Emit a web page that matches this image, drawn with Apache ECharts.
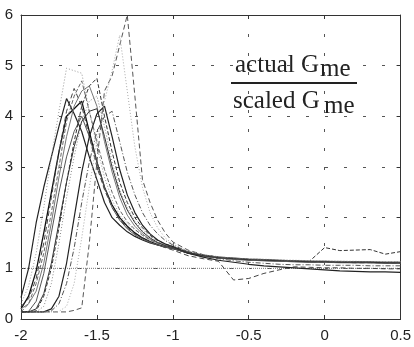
<!DOCTYPE html>
<html>
<head>
<meta charset="utf-8">
<script src="https://cdn.jsdelivr.net/npm/echarts@6/dist/echarts.min.js"></script>
<style>html,body{margin:0;padding:0;background:#fff}#c{width:414px;height:347px}</style>
</head>
<body>
<div id="c"></div>
<script>
// shared x positions (log-scale abscissa as in the reference)
var xs = [-2,-1.95,-1.9,-1.85,-1.8,-1.75,-1.7,-1.65,-1.6,-1.55,-1.5,-1.45,-1.4,-1.35,-1.3,-1.25,-1.2,-1.15,-1.1,-1.05,-1,-0.9,-0.8,-0.7,-0.6,-0.5,-0.4,-0.3,-0.2,-0.1,0,0.1,0.2,0.3,0.4,0.5];

var c1  = [0.42,1.0,1.9,2.6,3.2,3.8,4.35,4.05,3.7,3.2,2.75,2.3,2.0,1.85,1.72,1.63,1.56,1.5,1.46,1.42,1.39, 1.31,1.26,1.22,1.2,1.18,1.17,1.16,1.15,1.14,1.14,1.13,1.13,1.12,1.12,1.12];
var c2  = [0.3,0.65,1.3,2.2,3.2,4.1,4.95,4.9,4.85,4.1,3.4,2.8,2.35,2.05,1.88,1.76,1.66,1.58,1.51,1.46,1.42, 1.33,1.27,1.23,1.2,1.19,1.18,1.17,1.16,1.15,1.15,1.14,1.14,1.13,1.13,1.13];
var c3  = [0.2,0.45,0.95,1.7,2.5,3.3,4.0,4.15,4.3,3.7,3.1,2.6,2.25,2.0,1.83,1.7,1.6,1.53,1.47,1.43,1.4, 1.3,1.25,1.21,1.19,1.17,1.16,1.15,1.14,1.13,1.13,1.12,1.12,1.12,1.11,1.11];
var c4  = [0.14,0.3,0.7,1.3,2.1,3.0,3.9,4.4,4.7,4.1,3.5,2.95,2.5,2.15,1.92,1.77,1.65,1.56,1.49,1.44,1.41, 1.31,1.25,1.21,1.19,1.17,1.16,1.15,1.14,1.14,1.13,1.13,1.12,1.12,1.12,1.12];
var c5  = [0.25,0.4,0.8,1.5,2.4,3.3,4.1,4.55,4.2,3.6,3.0,2.55,2.2,1.97,1.8,1.68,1.59,1.52,1.46,1.41,1.36, 1.25,1.19,1.14,0.77,0.8,0.9,0.97,1.03,1.02,1.01,1.01,1.0,1.0,0.99,0.99];
var c6  = [0.14,0.15,0.35,0.9,1.7,2.5,3.2,3.7,4.0,3.6,3.1,2.6,2.2,1.95,1.78,1.66,1.58,1.51,1.46,1.42,1.39, 1.3,1.24,1.2,1.18,1.16,1.15,1.14,1.13,1.12,1.12,1.11,1.11,1.11,1.1,1.1];
var c7  = [0.14,0.14,0.16,0.45,1.0,1.8,2.7,3.5,4.2,4.6,4.75,4.0,3.3,2.7,2.3,2.0,1.8,1.65,1.55,1.48,1.43, 1.33,1.26,1.22,1.19,1.17,1.16,1.15,1.14,1.14,1.41,1.35,1.36,1.37,1.28,1.33];
var c8  = [0.14,0.14,0.14,0.25,0.7,1.5,2.4,3.2,3.9,4.3,4.4,3.8,3.1,2.55,2.2,1.93,1.75,1.62,1.53,1.46,1.42, 1.32,1.26,1.22,1.2,1.18,1.17,1.16,1.15,1.15,1.14,1.14,1.13,1.13,1.13,1.13];
var c9  = [0.2,0.3,0.55,1.1,1.9,2.8,3.6,4.2,4.5,4.6,4.2,3.5,2.9,2.4,2.05,1.83,1.68,1.57,1.5,1.45,1.41, 1.31,1.25,1.21,1.18,1.16,1.15,1.14,1.13,1.13,1.12,1.12,1.11,1.11,1.11,1.11];
var c10 = [0.14,0.14,0.14,0.14,0.2,0.45,1.1,2.0,2.9,3.6,4.05,4.2,3.6,2.95,2.45,2.1,1.85,1.68,1.56,1.48,1.43, 1.3,1.22,1.16,1.12,1.08,1.05,1.03,1.01,0.99,0.97,0.95,0.94,0.93,0.93,0.92];
var c11 = [0.14,0.14,0.14,0.14,0.14,0.14,0.14,0.17,0.22,1.5,3.1,4.5,4.8,5.4,6.0,4.4,2.75,2.3,1.95,1.7,1.52, 1.36,1.27,1.22,1.19,1.17,1.16,1.15,1.14,1.13,1.12,1.12,1.11,1.11,1.11,1.1];
var c12 = [0.14,0.14,0.14,0.14,0.14,0.15,0.25,0.7,1.6,2.6,3.5,4.3,4.9,5.6,4.5,3.4,2.6,2.1,1.8,1.6,1.48, 1.34,1.27,1.23,1.2,1.18,1.17,1.16,1.15,1.15,1.14,1.14,1.13,1.13,1.13,1.12];
var c13 = [0.14,0.14,0.14,0.14,0.16,0.3,0.7,1.4,2.3,3.1,3.7,4.0,4.1,3.5,2.9,2.45,2.1,1.85,1.68,1.55,1.46, 1.33,1.25,1.19,1.15,1.12,1.1,1.08,1.07,1.07,1.06,1.06,1.06,1.05,1.05,1.05];
var c14 = [0.14,0.14,0.2,0.5,1.1,1.9,2.7,3.4,3.9,4.1,4.15,3.6,3.0,2.5,2.15,1.9,1.72,1.6,1.51,1.45,1.41, 1.31,1.25,1.21,1.19,1.17,1.16,1.15,1.14,1.13,1.13,1.12,1.12,1.12,1.11,1.11];

var refX = [-2, 0.5];
var refY = [1, 1];

var curves = [c1,c2,c3,c4,c5,c6,c7,c8,c9,c10,c11,c12,c13,c14];
var styles = [
  {color:'#222', width:1.2, type:'solid'},
  {color:'#999', width:1, type:[1,2]},
  {color:'#111', width:1.3, type:'solid'},
  {color:'#666', width:1, type:[4,2]},
  {color:'#444', width:1, type:[5,3]},
  {color:'#555', width:1, type:'solid'},
  {color:'#333', width:1, type:[4,2]},
  {color:'#888', width:1, type:[1,2]},
  {color:'#777', width:1, type:'solid'},
  {color:'#222', width:1.2, type:'solid'},
  {color:'#555', width:1, type:[5,3]},
  {color:'#aaa', width:1, type:[1,2]},
  {color:'#555', width:1, type:[5,2,1,2]},
  {color:'#333', width:1, type:'solid'}
];

var series = curves.map(function(ys, k){
  return {
    type:'line', showSymbol:false, silent:true, animation:false,
    data: xs.map(function(x,i){return [x, ys[i]];}),
    lineStyle: styles[k]
  };
});
series.unshift({
  type:'line', showSymbol:false, silent:true, animation:false, z:1,
  data: refX.map(function(x,i){return [x, refY[i]];}),
  lineStyle:{color:'#777', width:1, type:[1,1]}
});

var labelFont = {fontFamily:'Liberation Sans, Arial, sans-serif', fontSize:15, color:'#222'};
var serif = 'Liberation Serif, Times New Roman, serif';

var chart = echarts.init(document.getElementById('c'), null, {renderer:'canvas'});
chart.setOption({
  animation:false,
  backgroundColor:'#fff',
  grid: {left:21, top:15, right:13, bottom:28},
  xAxis: [{
    type:'value', min:-2, max:0.5, interval:0.5,
    axisLine:{show:true, onZero:false, lineStyle:{color:'#333', width:1}},
    axisTick:{show:true, inside:true, length:4, lineStyle:{color:'#333'}},
    axisLabel:Object.assign({margin:9, showMinLabel:true, showMaxLabel:true}, labelFont),
    splitLine:{show:true, lineStyle:{color:'#555', width:1, type:[3,16]}}
  },{
    type:'value', position:'top', min:-2, max:0.5, interval:0.5,
    axisLine:{show:true, onZero:false, lineStyle:{color:'#333', width:1}},
    axisTick:{show:true, inside:true, length:4, lineStyle:{color:'#333'}},
    axisLabel:{show:false}, splitLine:{show:false}
  }],
  yAxis: [{
    type:'value', min:0, max:6, interval:1,
    axisLine:{show:true, onZero:false, lineStyle:{color:'#333', width:1}},
    axisTick:{show:true, inside:true, length:4, lineStyle:{color:'#333'}},
    axisLabel:Object.assign({margin:8}, labelFont),
    splitLine:{show:true, lineStyle:{color:'#555', width:1, type:[3,16]}}
  },{
    type:'value', position:'right', min:0, max:6, interval:1,
    axisLine:{show:true, onZero:false, lineStyle:{color:'#333', width:1}},
    axisTick:{show:true, inside:true, length:4, lineStyle:{color:'#333'}},
    axisLabel:{show:false}, splitLine:{show:false}
  }],
  series: series,
  graphic: [
    {type:'text', left:235, top:53, style:{text:'actual G', fontFamily:serif, fontSize:25, fill:'#222'}},
    {type:'text', left:320, top:57, style:{text:'me', fontFamily:serif, fontSize:25, fill:'#222'}},
    {type:'rect', shape:{x:231, y:82, width:126, height:2}, style:{fill:'#222'}},
    {type:'text', left:233, top:89, style:{text:'scaled G', fontFamily:serif, fontSize:25, fill:'#222'}},
    {type:'text', left:324, top:94, style:{text:'me', fontFamily:serif, fontSize:25, fill:'#222'}}
  ]
});
</script>
</body>
</html>
